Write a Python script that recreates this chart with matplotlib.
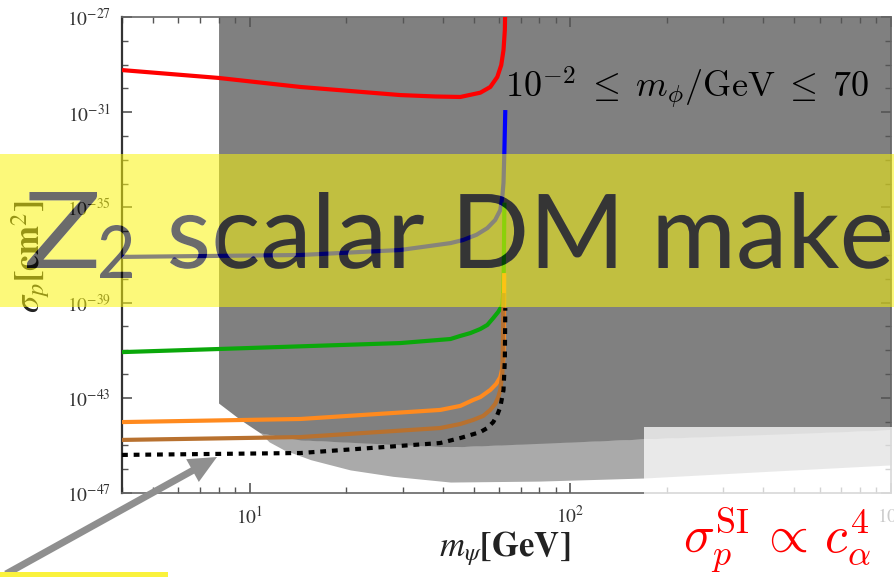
import numpy as np
import matplotlib
matplotlib.use("Agg")
import matplotlib.pyplot as plt
from matplotlib.patches import Rectangle, PathPatch, FancyArrow
from matplotlib.path import Path
from matplotlib.textpath import TextPath
from matplotlib.font_manager import FontProperties
from matplotlib.transforms import Affine2D, IdentityTransform
from matplotlib.ticker import FixedLocator, FuncFormatter, LogLocator, NullFormatter

W, H = 894, 577

# m_psi in GeV, log10 of sigma_p in cm^2, one pair per curve
red_m = [4.0, 8.0, 14.4, 29.5, 38.0, 45.4, 52.4, 56.3, 59.2, 60.9, 61.9, 62.5, 62.7]
red_lsig = [-29.23, -29.56, -29.94, -30.28, -30.34, -30.36, -30.18, -29.94, -29.52, -29.02, -28.39, -27.55, -26.50]

blue_m = [4.0, 14.4, 29.5, 42.3, 46.3, 51.0, 55.1, 58.3, 60.5, 61.4, 61.9, 62.3, 62.7]
blue_lsig = [-37.08, -37.00, -36.79, -36.50, -36.37, -36.15, -35.87, -35.53, -35.11, -34.52, -33.97, -32.60, -30.91]

green_m = [4.0, 8.0, 29.5, 42.3, 45.4, 48.8, 52.4, 55.1, 57.5, 59.6, 61.4, 61.9, 62.1, 62.3]
green_lsig = [-41.08, -40.95, -40.70, -40.53, -40.40, -40.28, -40.11, -39.94, -39.65, -39.39, -39.10, -38.47, -36.79, -34.80]

orange_m = [4.0, 14.4, 39.3, 45.4, 49.8, 52.4, 56.3, 58.7, 60.5, 61.4, 61.9, 62.1, 62.2]
orange_lsig = [-44.02, -43.89, -43.51, -43.34, -43.09, -42.97, -42.67, -42.42, -42.13, -41.75, -41.29, -40.15, -37.76]

brown_m = [4.0, 14.4, 39.3, 45.4, 49.8, 53.5, 56.3, 58.3, 59.6, 60.5, 61.4, 61.6, 61.9]
brown_lsig = [-44.77, -44.65, -44.27, -44.10, -43.93, -43.76, -43.51, -43.26, -42.97, -42.67, -41.96, -40.99, -38.60]

black_m = [4.0, 14.4, 39.3, 45.4, 52.4, 55.1, 57.5, 59.2, 60.5, 61.9, 62.5, 62.7]
black_lsig = [-45.40, -45.32, -44.90, -44.69, -44.44, -44.27, -44.02, -43.72, -43.39, -42.67, -41.41, -39.23]

# excluded regions
dark_m = [8.0, 9.38, 10.8, 14.4, 42.3, 170.0, 1000.0]
dark_lsig = [-43.22, -43.93, -44.48, -44.77, -45.07, -44.73, -44.35]
light_m = [10.8, 11.5, 12.8, 15.5, 20.6, 28.0, 42.3, 80.0, 170.0, 400.0, 1000.0]
light_lsig = [-44.48, -44.85, -45.19, -45.60, -46.03, -46.30, -46.54, -46.50, -46.37, -46.10, -45.82]

y_label_exps = [-27, -31, -35, -39, -43, -47]


def px(x, y):
    # image pixel (top-left origin) -> figure fraction
    return x / W, 1 - y / H


fig = plt.figure(figsize=(W / 100, H / 100), dpi=100)
plt.rcParams['mathtext.fontset'] = 'stix'
ax = fig.add_axes([122 / W, (H - 493) / H, (891 - 122) / W, (493 - 17) / H])
ax.set_xscale('log')
ax.set_yscale('log')
ax.set_xlim(4, 1000)
ax.set_ylim(1e-47, 1e-27)

dm = np.array(dark_m)
dl = 10.0 ** np.array(dark_lsig)
lm = np.array(light_m)
ll = 10.0 ** np.array(light_lsig)
ax.fill_between(lm, ll, np.interp(np.log(lm), np.log(dm), dl), color='#aaaaaa', lw=0, zorder=1)
ax.fill_between(dm, dl, 1e-27, color='#808080', lw=0, zorder=1)

curves = [
    (red_m, red_lsig, '#ff0000'),
    (blue_m, blue_lsig, '#0000ff'),
    (green_m, green_lsig, '#0aa80a'),
    (orange_m, orange_lsig, '#ff8a1e'),
    (brown_m, brown_lsig, '#b8712f'),
]
for m, ls, c in curves:
    ax.plot(m, 10.0 ** np.array(ls), color=c, lw=3.0, solid_capstyle='butt',
            solid_joinstyle='round', zorder=3)
ax.plot(black_m, 10.0 ** np.array(black_lsig), color='black', lw=3.0,
        dashes=(1.4, 1.4), dash_capstyle='butt', zorder=4)

# ticks
for s in ax.spines.values():
    s.set_color('#666666')
    s.set_linewidth(1.2)
ax.spines['left'].set_color('#333333')
ax.spines['left'].set_linewidth(1.6)
ax.xaxis.set_major_locator(FixedLocator([10, 100, 1000]))
ax.xaxis.set_minor_locator(LogLocator(base=10, subs=np.arange(2, 10)))
ax.xaxis.set_minor_formatter(NullFormatter())
ax.xaxis.set_major_formatter(FuncFormatter(lambda v, p: r'$10^{%d}$' % round(np.log10(v))))
ax.yaxis.set_major_locator(FixedLocator([10.0 ** e for e in y_label_exps]))
ax.yaxis.set_minor_locator(FixedLocator([10.0 ** e for e in range(-47, -26)]))
ax.yaxis.set_minor_formatter(NullFormatter())
ax.yaxis.set_major_formatter(FuncFormatter(lambda v, p: r'$10^{%d}$' % round(np.log10(v))))
ax.tick_params(which='both', direction='in', top=True, right=True, colors='#555555',
               labelcolor='#333333', labelsize=14)
ax.tick_params(which='major', length=7, width=1.2)
ax.tick_params(which='minor', length=4, width=1.0)
ax.tick_params(axis='x', pad=9)
ax.tick_params(axis='y', pad=8)

fig.text(*px(505, 556), r'$m_{\psi}$[GeV]', ha='center', va='baseline', fontsize=25,
         family='STIXGeneral', weight='bold', color='#222222')
fig.text(*px(31, 257), r'$\sigma_p$[cm$^2$]', ha='center', va='center', rotation=90,
         fontsize=25, family='STIXGeneral', weight='bold', color='#222222')

fig.text(*px(505, 98), r'$10^{-2}\;\leq\; m_\phi/\mathrm{GeV}\;\leq\; 70$', ha='left', va='baseline',
         fontsize=26, math_fontfamily='cm', color='black')

# translucent white box in the lower right, then the scaling note in red
fig.add_artist(Rectangle((644, 0), W - 644, H - 427, transform=IdentityTransform(),
                         facecolor='white', alpha=0.75, lw=0, zorder=5))
fig.text(*px(683, 553), r'$\sigma_p^{\mathrm{SI}}\,\propto\,c_\alpha^4$', ha='left', va='baseline',
         fontsize=37, math_fontfamily='cm', color='#ff0000', zorder=6)

# yellow title band with the letters cut out of it
lato = FontProperties(family='Lato')


def fitted_text_path(s, x0, top, x1, base):
    tp = TextPath((0, 0), s, size=100, prop=lato)
    ext = tp.get_extents()
    sx = (x1 - x0) / ext.width
    sy = (base - top) / ext.y1
    tr = Affine2D().translate(-ext.x0, 0).scale(sx, sy).translate(x0, H - base)
    return tr.transform_path(tp)


glyphs = [
    fitted_text_path('Z', 27, 192, 97, 268),
    fitted_text_path('2', 100, 225, 132, 278),
    fitted_text_path('scalar DM make', 170, 192, 890, 268),
]
z_poly = glyphs[0].to_polygons()[0]
area = 0.5 * np.sum(z_poly[:-1, 0] * z_poly[1:, 1] - z_poly[1:, 0] * z_poly[:-1, 1])
band = [(0, H - 307), (W, H - 307), (W, H - 154), (0, H - 154), (0, H - 307)]
if area > 0:
    band = band[::-1]
band_path = Path(band, [Path.MOVETO, Path.LINETO, Path.LINETO, Path.LINETO, Path.CLOSEPOLY])
fig.add_artist(PathPatch(Path.make_compound_path(band_path, *glyphs), transform=IdentityTransform(),
                         facecolor='#faf50a', alpha=0.54, lw=0, zorder=7))
fig.add_artist(PathPatch(Path.make_compound_path(*glyphs), transform=IdentityTransform(),
                         facecolor='black', alpha=0.58, lw=0, zorder=8))

# arrow and yellow strip at the bottom left
fig.add_artist(FancyArrow(6, H - 574, 211, 574 - 457, width=7, head_width=26, head_length=28,
                          length_includes_head=True, transform=IdentityTransform(),
                          color='#8f8f8f', lw=0, zorder=9))
fig.add_artist(Rectangle((0, 0), 168, 5, transform=IdentityTransform(),
                         facecolor='#faf23c', lw=0, zorder=9))

fig.savefig('out.png', dpi=100)
